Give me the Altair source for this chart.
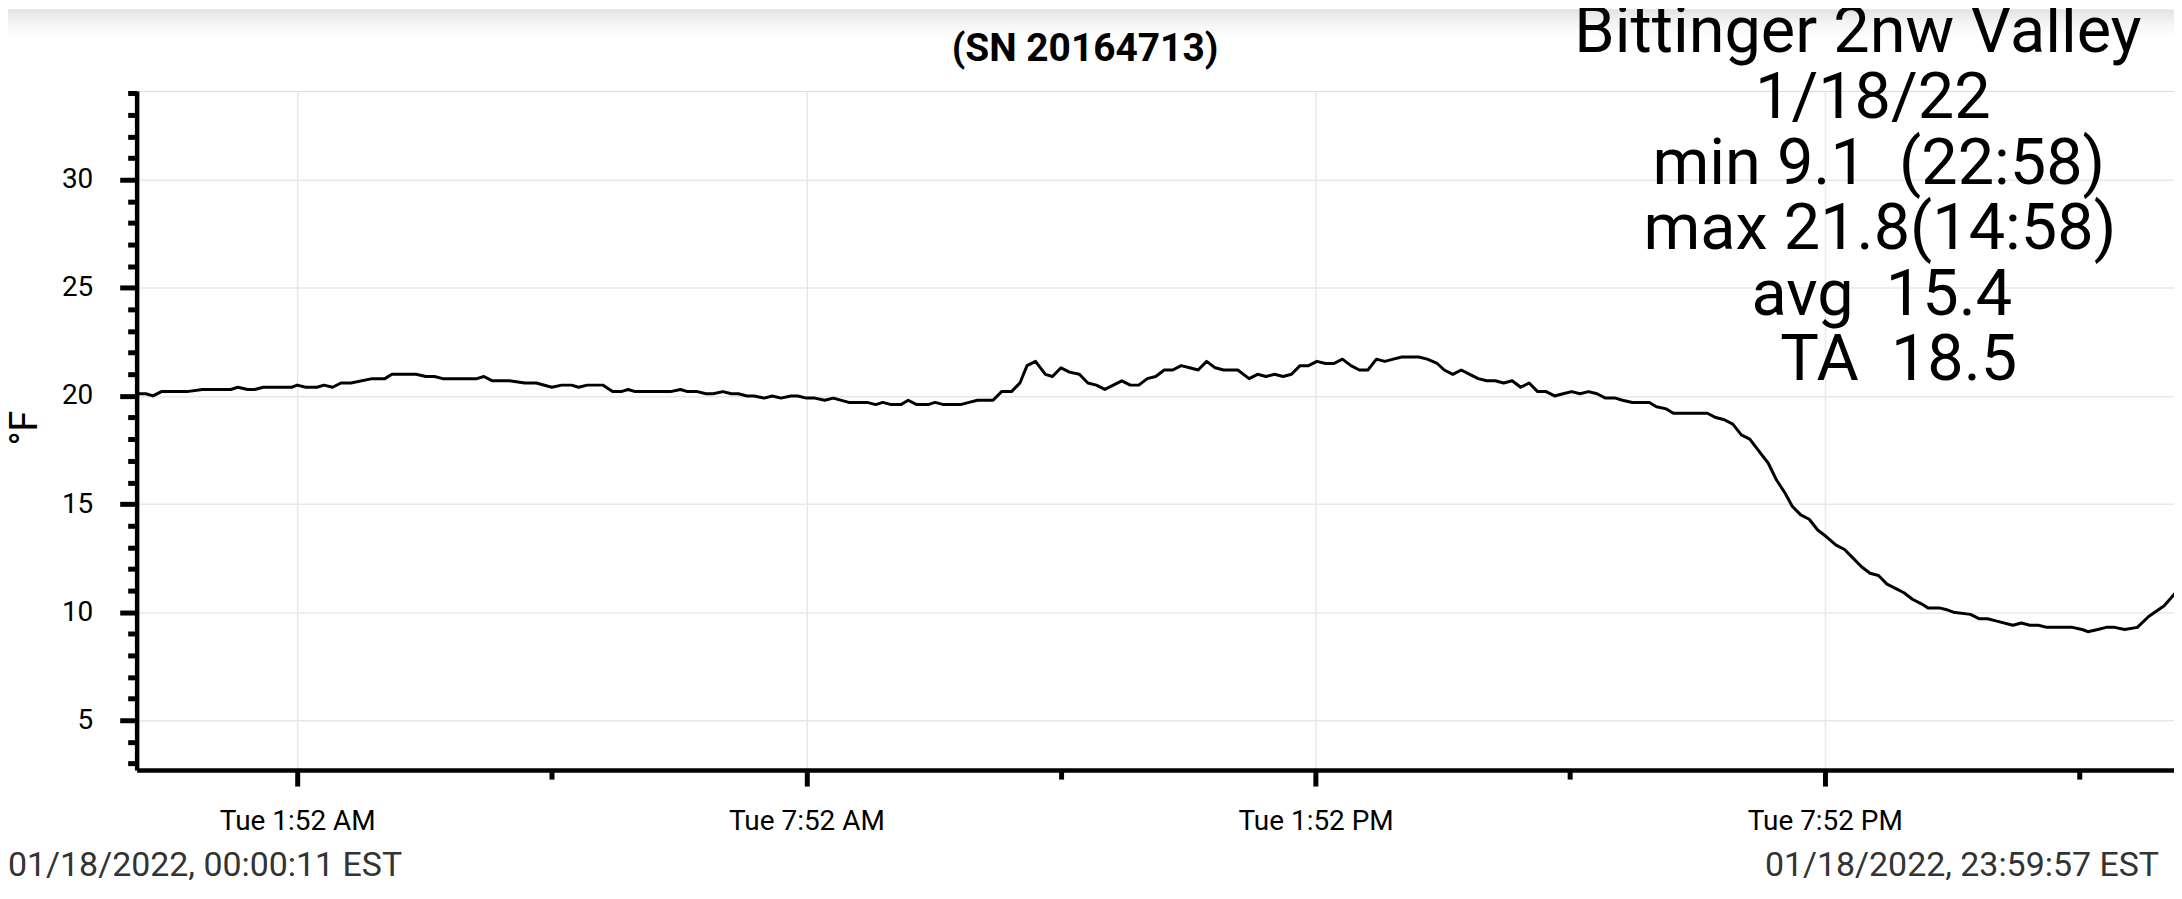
import altair as alt
import pandas as pd

# ---- data (time of day, degrees F) ----
times = [
    "00:00:11", "00:05", "00:10", "00:16", "00:34", "00:45", "01:05", "01:10", "01:17", "01:22",
    "01:28", "01:48", "01:52", "01:58", "02:06", "02:11", "02:17", "02:23", "02:30", "02:45",
    "02:54", "02:59", "03:16", "03:23", "03:29", "03:35", "03:59", "04:04", "04:10", "04:22",
    "04:33", "04:41", "04:52", "04:59", "05:06", "05:11", "05:17", "05:28", "05:35", "05:41",
    "05:46", "05:51", "06:16", "06:23", "06:28", "06:35", "06:41", "06:46", "06:53", "06:59",
    "07:04", "07:10", "07:15", "07:22", "07:28", "07:34", "07:41", "07:46", "07:52", "07:58",
    "08:05", "08:11", "08:22", "08:35", "08:41", "08:46", "08:52", "08:59", "09:04", "09:10",
    "09:18", "09:23", "09:29", "09:41", "09:47", "09:53", "10:04", "10:10", "10:17", "10:23",
    "10:28", "10:34", "10:41", "10:46", "10:52", "10:58", "11:05", "11:11", "11:17", "11:23",
    "11:29", "11:35", "11:41", "11:47", "11:53", "11:59", "12:05", "12:11", "12:17", "12:23",
    "12:29", "12:35", "12:41", "12:47", "12:53", "12:57", "13:05", "13:11", "13:17", "13:23",
    "13:29", "13:35", "13:41", "13:47", "13:53", "13:59", "14:05", "14:11", "14:17", "14:23",
    "14:29", "14:35", "14:41", "14:47", "14:53", "15:05", "15:11", "15:18", "15:23", "15:29",
    "15:35", "15:41", "15:47", "15:53", "15:59", "16:05", "16:11", "16:17", "16:23", "16:29",
    "16:35", "16:41", "16:47", "16:53", "16:59", "17:05", "17:11", "17:17", "17:24", "17:29",
    "17:36", "17:41", "17:48", "17:53", "18:00", "18:05", "18:29", "18:35", "18:41", "18:47",
    "18:53", "18:59", "19:06", "19:12", "19:18", "19:24", "19:29", "19:35", "19:41", "19:47",
    "19:53", "20:00", "20:06", "20:12", "20:18", "20:24", "20:30", "20:36", "20:42", "20:48",
    "20:54", "21:00", "21:05", "21:13", "21:19", "21:23", "21:35", "21:41", "21:47", "21:53",
    "22:05", "22:11", "22:17", "22:23", "22:29", "22:47", "22:54", "22:58", "23:05", "23:11",
    "23:17", "23:24", "23:33", "23:41", "23:52", "23:59:57",
]
temps_f = [
    20.1, 20.1, 20.0, 20.2, 20.2, 20.3, 20.3, 20.4, 20.3, 20.3,
    20.4, 20.4, 20.5, 20.4, 20.4, 20.5, 20.4, 20.6, 20.6, 20.8,
    20.8, 21.0, 21.0, 20.9, 20.9, 20.8, 20.8, 20.9, 20.7, 20.7,
    20.6, 20.6, 20.4, 20.5, 20.5, 20.4, 20.5, 20.5, 20.2, 20.2,
    20.3, 20.2, 20.2, 20.3, 20.2, 20.2, 20.1, 20.1, 20.2, 20.1,
    20.1, 20.0, 20.0, 19.9, 20.0, 19.9, 20.0, 20.0, 19.9, 19.9,
    19.8, 19.9, 19.7, 19.7, 19.6, 19.7, 19.6, 19.6, 19.8, 19.6,
    19.6, 19.7, 19.6, 19.6, 19.7, 19.8, 19.8, 20.2, 20.2, 20.6,
    21.4, 21.6, 21.0, 20.9, 21.3, 21.1, 21.0, 20.6, 20.5, 20.3,
    20.5, 20.7, 20.5, 20.5, 20.8, 20.9, 21.2, 21.2, 21.4, 21.3,
    21.2, 21.6, 21.3, 21.2, 21.2, 21.2, 20.8, 21.0, 20.9, 21.0,
    20.9, 21.0, 21.4, 21.4, 21.6, 21.5, 21.5, 21.7, 21.4, 21.2,
    21.2, 21.7, 21.6, 21.7, 21.8, 21.8, 21.7, 21.5, 21.2, 21.0,
    21.2, 21.0, 20.8, 20.7, 20.7, 20.6, 20.7, 20.4, 20.6, 20.2,
    20.2, 20.0, 20.1, 20.2, 20.1, 20.2, 20.1, 19.9, 19.9, 19.8,
    19.7, 19.7, 19.7, 19.5, 19.4, 19.2, 19.2, 19.0, 18.9, 18.7,
    18.2, 18.0, 17.4, 16.9, 16.1, 15.5, 14.9, 14.5, 14.3, 13.8,
    13.5, 13.1, 12.9, 12.5, 12.1, 11.8, 11.7, 11.3, 11.1, 10.9,
    10.6, 10.4, 10.2, 10.2, 10.1, 10.0, 9.9, 9.7, 9.7, 9.6,
    9.4, 9.5, 9.4, 9.4, 9.3, 9.3, 9.2, 9.1, 9.2, 9.3,
    9.3, 9.2, 9.3, 9.8, 10.3, 10.9,
]

x_tick_times = ["01:52", "04:52", "07:52", "10:52", "13:52", "16:52", "19:52", "22:52"]
x_tick_labels = ["Tue 1:52 AM", "", "Tue 7:52 AM", "", "Tue 1:52 PM", "", "Tue 7:52 PM", ""]
y_ticks = list(range(3, 35))

title_text = "(SN 20164713)"
NB = "\u00a0"
info_lines = ["Bittinger 2nw Valley", "1/18/22", "min 9.1 " + NB + "(22:58)",
              "max 21.8(14:58)", "avg " + NB + "15.4", "TA " + NB + "18.5"]
footer_left = "01/18/2022, 00:00:11 EST"
footer_right = "01/18/2022, 23:59:57 EST"
y_title = "°F"


def to_hours(s):
    parts = [int(p) for p in s.split(":")]
    while len(parts) < 3:
        parts.append(0)
    return parts[0] + parts[1] / 60 + parts[2] / 3600


df = pd.DataFrame({"hour": [to_hours(t) for t in times], "temp": temps_f})
x_ticks = [to_hours(t) for t in x_tick_times]

# label expression built from the tick lists
expr = "''"
for i in range(len(x_ticks) - 1, -1, -1):
    hi = x_ticks[i] + 1.5
    expr = f"datum.value < {hi:.4f} ? '{x_tick_labels[i]}' : ({expr})"

FONT = "Roboto"
W, H = 2043, 681

x_major = "(datum.value + 1) % 6 < 3"
y_major = "datum.value % 5 === 0"

line = alt.Chart(df).mark_line(color="black", strokeWidth=3, clip=True,
                               strokeJoin="round").encode(
    x=alt.X("hour:Q",
            scale=alt.Scale(domain=[-0.0252, 23.982], nice=False, zero=False),
            axis=alt.Axis(values=x_ticks, labelExpr=expr, title=None,
                          domainColor="black", domainWidth=4.5,
                          tickColor="black", tickWidth=5,
                          tickSize={"condition": {"test": x_major, "value": 16}, "value": 9},
                          grid=True, gridColor="#e8e8e8", gridWidth=1.5,
                          gridOpacity={"condition": {"test": x_major, "value": 1}, "value": 0},
                          labelFont=FONT, labelFontSize=28, labelColor="black",
                          labelPadding=22, labelFlush=False, labelOverlap=False)),
    y=alt.Y("temp:Q",
            scale=alt.Scale(domain=[2.7, 34.1], nice=False, zero=False),
            axis=alt.Axis(values=y_ticks, title=None,
                          labelExpr=f"{y_major} ? datum.label : ''",
                          domainColor="black", domainWidth=4.5,
                          tickColor="black", tickWidth=5,
                          tickSize={"condition": {"test": y_major, "value": 17}, "value": 9},
                          grid=True, gridColor="#e8e8e8", gridWidth=1.5,
                          gridOpacity={"condition": {"test": y_major, "value": 1}, "value": 0},
                          labelFont=FONT, labelFontSize=28, labelColor="black",
                          labelPadding=27, labelOverlap=False)),
)


def text_layer(txt, x, y, size, align="center", weight="normal", color="black", angle=0):
    return alt.Chart(pd.DataFrame({"t": [txt]})).mark_text(
        font=FONT, fontSize=size, align=align, baseline="alphabetic",
        fontWeight=weight, color=color, angle=angle,
    ).encode(text="t:N", x=alt.value(x), y=alt.value(y))


# soft grey band at the top of the screenshot
band = alt.Chart(pd.DataFrame({"a": [0]})).mark_rect(
    color=alt.Gradient(gradient="linear", x1=0, x2=0, y1=0, y2=1,
                       stops=[alt.GradientStop(offset=0, color="#e2e2e2"),
                              alt.GradientStop(offset=0.45, color="#f3f3f3"),
                              alt.GradientStop(offset=1, color="#ffffff")])
).encode(x=alt.value(-129), x2=alt.value(W), y=alt.value(-82), y2=alt.value(-54))

layers = [band, line]
layers.append(text_layer(title_text, 951, -30, 39, weight="bold"))
info_x = [1726, 1741, 1747, 1748, 1750, 1767]
info_y = [-39, 27, 93, 158, 225, 290]
for txt, xx, yy in zip(info_lines, info_x, info_y):
    layers.append(text_layer(txt, xx, yy, 65))
layers.append(text_layer(footer_left, -129, 787, 34, align="left", color="#333333"))
layers.append(text_layer(footer_right, 2028, 787, 34, align="right", color="#333333"))
layers.append(text_layer(y_title, -100, 338, 38, angle=270))

chart = alt.layer(*layers).properties(
    width=W, height=H,
    padding={"left": 129, "top": 82, "right": 0, "bottom": 112},
    autosize=alt.AutoSizeParams(type="none"),
).configure_view(strokeWidth=0).configure(background="white")

chart.save("out.html", embed_options={"renderer": "svg", "actions": False})
